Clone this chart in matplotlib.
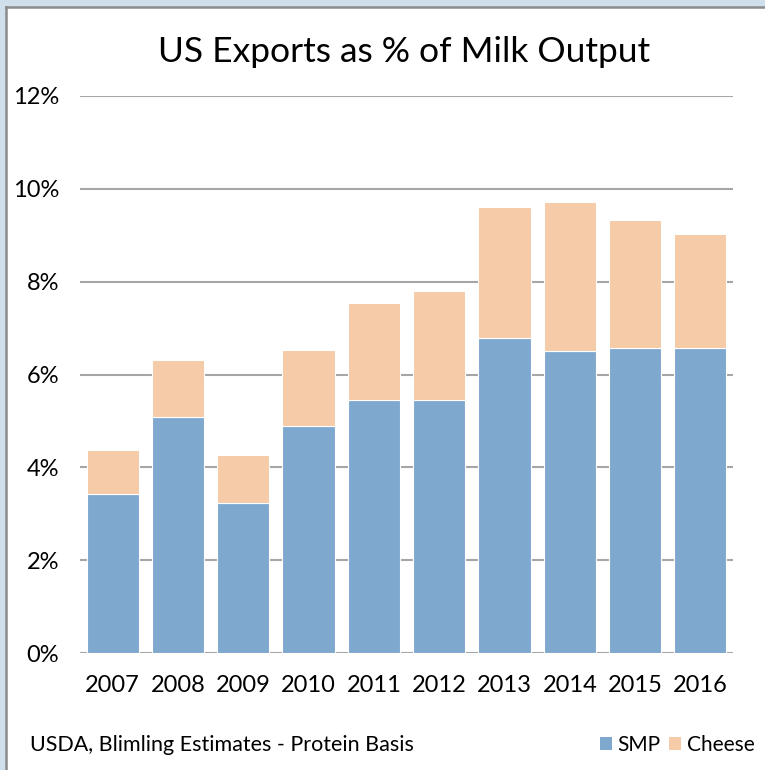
import matplotlib.pyplot as plt
from matplotlib.patches import Rectangle, Patch
from matplotlib.lines import Line2D

years = ['2007', '2008', '2009', '2010', '2011', '2012', '2013', '2014', '2015', '2016']
smp = [3.42, 5.08, 3.23, 4.90, 5.46, 5.46, 6.79, 6.51, 6.57, 6.57]
total = [4.38, 6.31, 4.27, 6.52, 7.54, 7.80, 9.61, 9.72, 9.32, 9.03]
cheese = [t - s for t, s in zip(total, smp)]

blue = '#7fa8cf'
peach = '#f6cba7'
grid_col = '#a6a6a6'

plt.rcParams['font.family'] = ['Lato', 'DejaVu Sans']

fig = plt.figure(figsize=(7.65, 7.70), dpi=100)

# slide-like frame: light blue strip top/left, gray border line
fig.add_artist(Rectangle((0, 0), 1, 1, transform=fig.transFigure,
                         facecolor='#cfdfeb', edgecolor='none', zorder=-10))
fig.add_artist(Rectangle((6 / 765, 0), 1, 1 - 8 / 770, transform=fig.transFigure,
                         facecolor='white', edgecolor='none', zorder=-9))
fig.add_artist(Line2D([6 / 765, 6 / 765], [0, 1 - 7 / 770], transform=fig.transFigure,
                      color='#8c8c8c', lw=1.8))
fig.add_artist(Line2D([6 / 765, 1], [1 - 7 / 770, 1 - 7 / 770], transform=fig.transFigure,
                      color='#8c8c8c', lw=1.8))

ax = fig.add_axes([80 / 765, 1 - 653 / 770, 653 / 765, 557 / 770])
ax.set_facecolor('none')

x = range(len(years))
ax.bar(x, smp, width=0.8, color=blue, edgecolor='white', linewidth=0.8, zorder=3)
ax.bar(x, cheese, bottom=smp, width=0.8, color=peach, edgecolor='white', linewidth=0.8, zorder=3)

ax.set_xlim(-0.5, len(years) - 0.5)
ax.set_ylim(0, 12)
ax.set_yticks(range(0, 13, 2))
ax.set_yticklabels([f'{v}%' for v in range(0, 13, 2)])
ax.set_xticks(list(x))
ax.set_xticklabels(years)
ax.grid(axis='y', color=grid_col, linewidth=1.5, zorder=0)
for s in ax.spines.values():
    s.set_visible(False)
ax.tick_params(axis='both', length=0, labelsize=17, colors='black')
ax.tick_params(axis='y', pad=15)
ax.tick_params(axis='x', pad=16)

fig.text(404 / 765, 1 - 52 / 770, 'US Exports as % of Milk Output', ha='center', va='center',
         fontsize=25.5)
fig.text(30 / 765, 1 - 745 / 770, 'USDA, Blimling Estimates - Protein Basis', ha='left',
         va='center', fontsize=15.5)

handles = [Patch(facecolor=blue, edgecolor='none'), Patch(facecolor=peach, edgecolor='none')]
fig.legend(handles, ['SMP', 'Cheese'], loc='center right', bbox_to_anchor=(763 / 765, 1 - 745 / 770),
           ncol=2, frameon=False, fontsize=15, handlelength=0.55, handleheight=0.55,
           handletextpad=0.3, columnspacing=0.4, borderaxespad=0)

fig.savefig('out.png', dpi=100)
